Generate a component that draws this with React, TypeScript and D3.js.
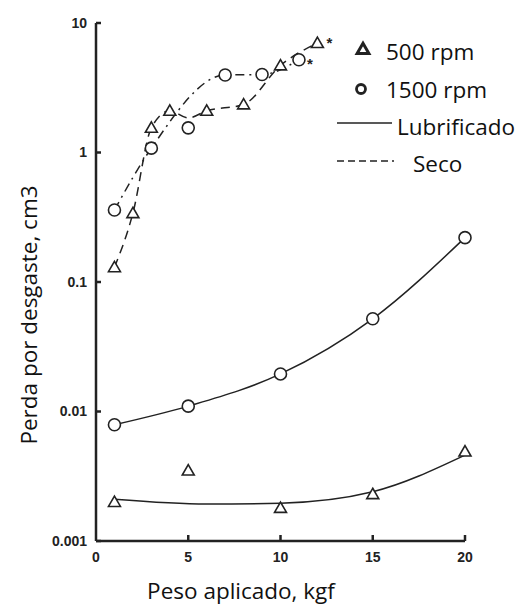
import * as d3 from "d3";

// cargas (kgf)
const loads = [1, 5, 10, 15, 20];

// lubrificado, marcadores
const lub500 = [0.002, 0.0035, 0.0018, 0.0023, 0.0049];
const lub1500 = [0.0079, 0.011, 0.0195, 0.052, 0.22];

// curva ajustada 500 rpm lubrificado
const lub500FitX = [1, 6, 10, 15, 20];
const lub500FitY = [0.0021, 0.00193, 0.00196, 0.0024, 0.0046];

// seco, marcadores
const dry500X = [1, 2, 3, 4, 6, 8, 10, 12];
const dry500 = [0.13, 0.34, 1.55, 2.1, 2.1, 2.35, 4.7, 7.0];
const dry1500X = [1, 3, 5, 7, 9, 11];
const dry1500 = [0.36, 1.08, 1.55, 3.97, 4.0, 5.2];

// curvas tracejadas (seco)
const dry500FitX = [1, 2, 3, 4, 5, 6, 8, 10, 12];
const dry500FitY = [0.13, 0.34, 1.55, 2.1, 1.85, 2.1, 2.35, 4.7, 7.0];
const dry1500FitX = [1, 3, 7, 9, 11];
const dry1500FitY = [0.36, 1.08, 3.97, 4.0, 5.2];

const xTicks = [0, 5, 10, 15, 20];
const yTicks = [0.001, 0.01, 0.1, 1, 10];
const yTickLabels = ["0.001", "0.01", "0.1", "1", "10"];

const legendItems = ["500 rpm", "1500 rpm", "Lubrificado", "Seco"];

const width = 520;
const height = 605;
const ink = "#222";
const tickFont = "'Liberation Sans', Arial, sans-serif";
const labelFont = "'Open Sans', 'Noto Sans', sans-serif";
const labelSize = 22.5;

export default function App() {
  const x = d3.scaleLinear().domain([0, 20]).range([96, 465]);
  const y = d3.scaleLog().domain([0.001, 10]).range([541, 23]);

  const line = d3
    .line<[number, number]>()
    .x((d) => x(d[0]))
    .y((d) => y(d[1]))
    .curve(d3.curveMonotoneX);

  const zip = (a: number[], b: number[]) =>
    a.map((v, i) => [v, b[i]] as [number, number]);

  const tri = d3.symbol(d3.symbolTriangle, 62)();
  const triLegend = d3.symbol(d3.symbolTriangle, 60)();

  const Tri = ({ cx, cy }: { cx: number; cy: number }) => (
    <path
      d={tri!}
      transform={`translate(${cx},${cy + 1})`}
      fill="white"
      stroke={ink}
      strokeWidth={1.6}
    />
  );
  const Circ = ({ cx, cy }: { cx: number; cy: number }) => (
    <circle cx={cx} cy={cy} r={6} fill="white" stroke={ink} strokeWidth={1.6} />
  );

  return (
    <svg
      width={width}
      height={height}
      style={{ position: "absolute", left: 0, top: 0, background: "white" }}
    >
      {/* eixos */}
      <line x1={x(0)} x2={x(0)} y1={y(10)} y2={y(0.001)} stroke={ink} strokeWidth={2.5} />
      <line x1={x(0)} x2={x(20)} y1={y(0.001)} y2={y(0.001)} stroke={ink} strokeWidth={2.5} />
      {yTicks.map((t, i) => (
        <g key={"yt" + t}>
          <line x1={x(0)} x2={x(0) + 5} y1={y(t)} y2={y(t)} stroke={ink} strokeWidth={2.5} />
          <text
            x={x(0) - 9}
            y={y(t)}
            dy="0.35em"
            textAnchor="end"
            fontFamily={tickFont}
            fontWeight="bold"
            fontSize={14}
            fill={ink}
          >
            {yTickLabels[i]}
          </text>
        </g>
      ))}
      {xTicks.map((t) => (
        <g key={"xt" + t}>
          {t > 0 && (
            <line x1={x(t)} x2={x(t)} y1={y(0.001)} y2={y(0.001) - 6} stroke={ink} strokeWidth={2.5} />
          )}
          <text
            x={x(t)}
            y={y(0.001) + 21}
            textAnchor="middle"
            fontFamily={tickFont}
            fontWeight="bold"
            fontSize={14}
            fill={ink}
          >
            {t}
          </text>
        </g>
      ))}

      {/* curvas */}
      <path d={line(zip(loads, lub1500))!} fill="none" stroke={ink} strokeWidth={1.5} />
      <path d={line(zip(lub500FitX, lub500FitY))!} fill="none" stroke={ink} strokeWidth={1.5} />
      <path
        d={line(zip(dry500FitX, dry500FitY))!}
        fill="none"
        stroke={ink}
        strokeWidth={1.5}
        strokeDasharray="9,6"
      />
      <path
        d={line(zip(dry1500FitX, dry1500FitY))!}
        fill="none"
        stroke={ink}
        strokeWidth={1.5}
        strokeDasharray="9,5,2,5"
      />

      {/* marcadores */}
      {loads.map((l, i) => (
        <Circ key={"lc" + l} cx={x(l)} cy={y(lub1500[i])} />
      ))}
      {loads.map((l, i) => (
        <Tri key={"lt" + l} cx={x(l)} cy={y(lub500[i])} />
      ))}
      {dry1500X.map((l, i) => (
        <Circ key={"dc" + l} cx={x(l)} cy={y(dry1500[i])} />
      ))}
      {dry500X.map((l, i) => (
        <Tri key={"dt" + l} cx={x(l)} cy={y(dry500[i])} />
      ))}
      <text
        x={x(12) + 9}
        y={y(7.0) + 5}
        fontFamily={tickFont}
        fontWeight="bold"
        fontSize={15}
        fill={ink}
      >
        *
      </text>
      <text
        x={x(11) + 8}
        y={y(5.2) + 9}
        fontFamily={tickFont}
        fontWeight="bold"
        fontSize={15}
        fill={ink}
      >
        *
      </text>

      {/* legenda */}
      <path
        d={triLegend!}
        transform="translate(363,50)"
        fill="white"
        stroke={ink}
        strokeWidth={3}
      />
      <circle cx={361} cy={89} r={4.5} fill="white" stroke={ink} strokeWidth={2.8} />
      <line x1={337} x2={392} y1={123} y2={123} stroke={ink} strokeWidth={1.5} />
      <line x1={337} x2={394} y1={161} y2={161} stroke={ink} strokeWidth={1.5} strokeDasharray="7,4" />
      {legendItems.map((t, i) => (
        <text
          key={t}
          x={[386, 386, 397, 413][i]}
          y={[60, 98, 135, 172][i]}
          fontFamily={labelFont}
          fontSize={labelSize}
          fill="#111"
        >
          {t}
        </text>
      ))}

      {/* títulos dos eixos */}
      <text
        x={241}
        y={599}
        textAnchor="middle"
        fontFamily={labelFont}
        fontSize={labelSize}
        fill="#111"
      >
        Peso aplicado, kgf
      </text>
      <text
        transform="translate(37,315) rotate(-90)"
        textAnchor="middle"
        fontFamily={labelFont}
        fontSize={labelSize}
        fill="#111"
      >
        Perda por desgaste, cm3
      </text>
    </svg>
  );
}
